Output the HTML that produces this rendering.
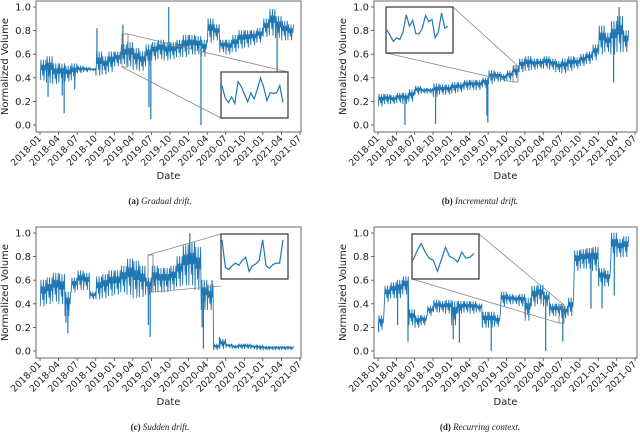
<!DOCTYPE html>
<html><head><meta charset="utf-8">
<style>
html,body{margin:0;padding:0;background:#fff;}
svg{display:block;}
text{font-family:"DejaVu Sans","Liberation Sans",sans-serif;fill:#222;}
.cap{font-family:"Liberation Serif",serif;font-size:9px;}
</style></head>
<body>
<svg id="chart" width="640" height="433" viewBox="0 0 640 433" xmlns="http://www.w3.org/2000/svg"></svg>
<script>
// shared tick labels
const xTickLabels = ["2018-01","2018-04","2018-07","2018-10","2019-01","2019-04","2019-07","2019-10","2020-01","2020-04","2020-07","2020-10","2021-01","2021-04","2021-07"];
const yTickLabels = ["0.0","0.2","0.4","0.6","0.8","1.0"];
const yTickValues = [0,0.2,0.4,0.6,0.8,1.0];

// Monthly low / high ranges (months from 2018-01), plus spikes [monthPos, value]
const aLo = [0.38,0.36,0.35,0.36,0.37,0.38,0.44,0.45,0.46,0.42,0.43,0.45,0.5,0.52,0.5,0.47,0.46,0.5,0.55,0.56,0.55,0.56,0.58,0.58,0.6,0.6,0.58,0.7,0.72,0.62,0.6,0.62,0.65,0.66,0.68,0.7,0.75,0.76,0.74,0.72,0.72];
const aHi = [0.55,0.58,0.52,0.52,0.5,0.52,0.5,0.49,0.48,0.62,0.58,0.62,0.62,0.68,0.7,0.65,0.62,0.68,0.7,0.72,0.7,0.7,0.72,0.76,0.76,0.75,0.72,0.9,0.85,0.72,0.72,0.76,0.8,0.8,0.8,0.82,0.9,0.98,0.92,0.88,0.85];
const aSpikes = [[1.3,0.24],[3.6,0.25],[3.9,0.1],[5.6,0.3],[9.2,0.82],[13.4,0.85],[17.6,0.15],[17.9,0.05],[20.8,1.0],[26.0,0.0],[38.3,0.45]];

const bLo = [0.16,0.18,0.18,0.19,0.18,0.2,0.26,0.27,0.27,0.24,0.26,0.26,0.27,0.28,0.3,0.3,0.3,0.32,0.35,0.37,0.37,0.38,0.4,0.45,0.46,0.47,0.48,0.48,0.47,0.45,0.44,0.46,0.48,0.5,0.52,0.55,0.6,0.62,0.6,0.62,0.62];
const bHi = [0.26,0.26,0.25,0.27,0.27,0.3,0.33,0.31,0.31,0.35,0.34,0.34,0.36,0.36,0.38,0.38,0.38,0.4,0.46,0.45,0.43,0.46,0.5,0.56,0.58,0.56,0.56,0.58,0.56,0.54,0.56,0.58,0.57,0.6,0.62,0.68,0.84,0.78,0.88,0.92,0.8];
const bSpikes = [[4.4,0.0],[9.4,0.01],[17.8,0.08],[17.95,0.02],[38.5,0.36],[39.4,1.0]];

const cLo = [0.38,0.4,0.42,0.4,0.3,0.5,0.52,0.52,0.44,0.44,0.45,0.47,0.48,0.5,0.48,0.45,0.46,0.48,0.5,0.5,0.5,0.52,0.55,0.56,0.56,0.52,0.35,0.35,0.01,0.02,0.03,0.02,0.02,0.02,0.02,0.01,0.01,0.01,0.01,0.01,0.01];
const cHi = [0.6,0.62,0.66,0.65,0.5,0.62,0.68,0.66,0.5,0.63,0.65,0.68,0.68,0.72,0.78,0.76,0.72,0.62,0.72,0.7,0.7,0.72,0.8,0.9,0.92,0.88,0.6,0.56,0.06,0.1,0.06,0.05,0.06,0.06,0.05,0.05,0.04,0.04,0.04,0.04,0.04];
const cSpikes = [[4.2,0.24],[4.5,0.15],[17.5,0.22],[17.8,0.12],[24.2,1.0],[26.2,0.2],[26.4,0.02],[27.8,0.6],[29.0,0.12]];

const dLo = [0.18,0.42,0.45,0.45,0.48,0.22,0.2,0.22,0.3,0.33,0.33,0.32,0.22,0.32,0.33,0.32,0.33,0.2,0.2,0.21,0.38,0.4,0.4,0.38,0.26,0.38,0.4,0.38,0.3,0.3,0.28,0.3,0.68,0.7,0.7,0.68,0.55,0.55,0.78,0.8,0.8];
const dHi = [0.3,0.55,0.58,0.6,0.63,0.35,0.3,0.3,0.38,0.43,0.42,0.43,0.42,0.42,0.42,0.42,0.4,0.33,0.33,0.3,0.5,0.48,0.47,0.48,0.45,0.55,0.56,0.5,0.4,0.4,0.38,0.45,0.85,0.86,0.87,0.88,0.7,0.68,1.0,0.95,0.97];
const dSpikes = [[0.1,0.16],[3.2,0.22],[4.9,0.08],[12.3,0.1],[13.3,0.07],[18.5,0.0],[27.4,0.0],[30.2,0.08],[34.8,0.36],[36.6,0.36],[38.6,0.47]];

// inset (zoomed) series values
const aInset = [0.75,0.42,0.3,0.45,0.28,0.85,0.72,0.52,0.32,0.55,0.4,0.65,0.95,0.7,0.35,0.56,0.54,0.56,0.75,0.3];
const bInset = [0.5,0.35,0.2,0.3,0.25,0.45,0.9,0.6,0.75,0.4,0.4,0.55,0.88,0.72,0.78,0.3,0.45,0.95,0.55,0.6];
const cInset = [0.95,0.2,0.15,0.25,0.32,0.26,0.4,0.48,0.1,0.25,0.3,0.4,0.95,0.25,0.18,0.28,0.32,0.32,0.95];
const dInset = [0.4,0.65,0.85,0.62,0.45,0.4,0.1,0.42,0.75,0.5,0.45,0.35,0.62,0.45,0.48,0.58];

const NS = "http://www.w3.org/2000/svg";
const svg = document.getElementById("chart");
function mk(tag, attrs, parent){
  const e = document.createElementNS(NS, tag);
  for (const k in attrs) e.setAttribute(k, attrs[k]);
  (parent||svg).appendChild(e);
  return e;
}
const BLUE = "#1f77b4";

function panel(o){
  const g = mk("g", {});
  
  
  const xs = m => o.x0 + m * o.mStep;
  const ys = v => o.yZero - v * o.yUnit;
  const fr = mk("rect", {x:o.L, y:o.T, width:o.R-o.L, height:o.B-o.T, fill:"none", stroke:"#444", "stroke-width":0.8}, g);
  
  
  yTickValues.forEach((v,i)=>{
    const y = ys(v);
    mk("line",{x1:o.L-3,x2:o.L,y1:y,y2:y,stroke:"#444","stroke-width":0.8},g);
    const t = mk("text",{x:o.L-5,y:y+3.5,"text-anchor":"end","font-size":"10px"},g);
    t.textContent = yTickLabels[i];
    
    
  });
  xTickLabels.forEach((lab,i)=>{
    const x = xs(i*3);
    mk("line",{x1:x,x2:x,y1:o.B,y2:o.B+3,stroke:"#444","stroke-width":0.8},g);
    const t = mk("text",{x:x+2,y:o.B+7,"text-anchor":"end","font-size":"9.3px",transform:`rotate(-45 ${x+2} ${o.B+7})`},g);
    t.textContent = lab;
    
    
  });
  const xt = mk("text",{x:(o.L+o.R)/2,y:o.B+47,"text-anchor":"middle","font-size":"10px"},g);
  xt.textContent = "Date";
  
  
  const yx = o.L-28, yy = (o.T+o.B)/2;
  const yt = mk("text",{x:yx,y:yy,"text-anchor":"middle","font-size":"10px",transform:`rotate(-90 ${yx} ${yy})`},g);
  yt.textContent = "Normalized Volume";
  
  
  // series: zigzag within monthly low/high range, varying amplitude
  let pts = [];
  const n = o.lo.length;
  const sub = 10;
  for (let i=0;i<n;i++){
    const lo = o.lo[i], hi = o.hi[i], mid = (lo+hi)/2;
    const q1 = (lo+mid)/2, q3 = (mid+hi)/2;
    const pattern = [lo, hi, mid, q3, q1, hi, lo, q3, mid, hi];
    for (let k=0;k<sub;k++){
      const m = i + (k+0.5)/sub;
      pts.push(xs(m).toFixed(2)+","+ys(pattern[k]).toFixed(2));
    }
  }
  const line = mk("polyline",{points:pts.join(" "),fill:"none",stroke:BLUE,"stroke-width":0.9,"stroke-linejoin":"round"},g);
  
  
  o.spikes.forEach(s=>{
    const i = Math.min(n-1, Math.floor(s[0]));
    const base = (o.lo[i]+o.hi[i])/2;
    const sp = mk("line",{x1:xs(s[0]),x2:xs(s[0]),y1:ys(base),y2:ys(s[1]),stroke:BLUE,"stroke-width":1.2},g);
    
    
  });
  const z = o.zoom;
  const zr = mk("rect",{x:z[0],y:z[1],width:z[2]-z[0],height:z[3]-z[1],fill:"none",stroke:"#777","stroke-width":0.8},g);
  
  
  o.conn.forEach(c=>{
    mk("line",{x1:c[0],y1:c[1],x2:c[2],y2:c[3],stroke:"#888","stroke-width":0.8},g);
  });
  const ib = o.inset;
  const ir = mk("rect",{x:ib[0],y:ib[1],width:ib[2]-ib[0],height:ib[3]-ib[1],fill:"#fff",stroke:"#333","stroke-width":1.2},g);
  
  
  const iv = o.insetVals;
  const ip = iv.map((v,i)=>{
    const x = ib[0]+1 + i*(ib[2]-ib[0]-6)/(iv.length-1);
    const y = ib[3]-4 - v*(ib[3]-ib[1]-8);
    return x.toFixed(2)+","+y.toFixed(2);
  });
  const il = mk("polyline",{points:ip.join(" "),fill:"none",stroke:BLUE,"stroke-width":1.2},g);
  
  
  const cap = mk("text",{x:o.capX,y:o.capY,"text-anchor":"middle",class:"cap"},g);
  
  
  const b = mk("tspan",{"font-weight":"bold"},cap); b.textContent = o.capA + " ";
  const it = mk("tspan",{"font-style":"italic"},cap); it.textContent = o.capB;
}

panel({name:"panel-gradual-drift",L:36,R:301,T:1,B:132,x0:40,mStep:6.19,yZero:125,yUnit:118,
  lo:aLo,hi:aHi,spikes:aSpikes,zoom:[122,34,128,67],conn:[[128,34,288,72],[122,67,221,118]],
  inset:[221,72,288,118],insetVals:aInset,capX:160,capY:204,capA:"(a)",capB:"Gradual drift."});
panel({name:"panel-incremental-drift",L:374,R:637,T:1,B:132,x0:378,mStep:6.12,yZero:125,yUnit:118,
  lo:bLo,hi:bHi,spikes:bSpikes,zoom:[513,66,518,82],conn:[[453,7,518,66],[386,53,513,82]],
  inset:[386,7,453,53],insetVals:bInset,capX:480,capY:204,capA:"(b)",capB:"Incremental drift."});
panel({name:"panel-sudden-drift",L:36,R:301,T:227,B:358,x0:40,mStep:6.19,yZero:351,yUnit:118,
  lo:cLo,hi:cHi,spikes:cSpikes,zoom:[148,255,153,292],conn:[[148,255,221,234],[153,292,221,286]],
  inset:[221,234,288,279],insetVals:cInset,capX:160,capY:430,capA:"(c)",capB:"Sudden drift."});
panel({name:"panel-recurring-context",L:374,R:637,T:227,B:358,x0:378,mStep:6.12,yZero:351,yUnit:118,
  lo:dLo,hi:dHi,spikes:dSpikes,zoom:[559,305,564,323],conn:[[479,234,564,305],[412,279,559,323]],
  inset:[412,234,479,279],insetVals:dInset,capX:480,capY:430,capA:"(d)",capB:"Recurring context."});
</script>
</body></html>
